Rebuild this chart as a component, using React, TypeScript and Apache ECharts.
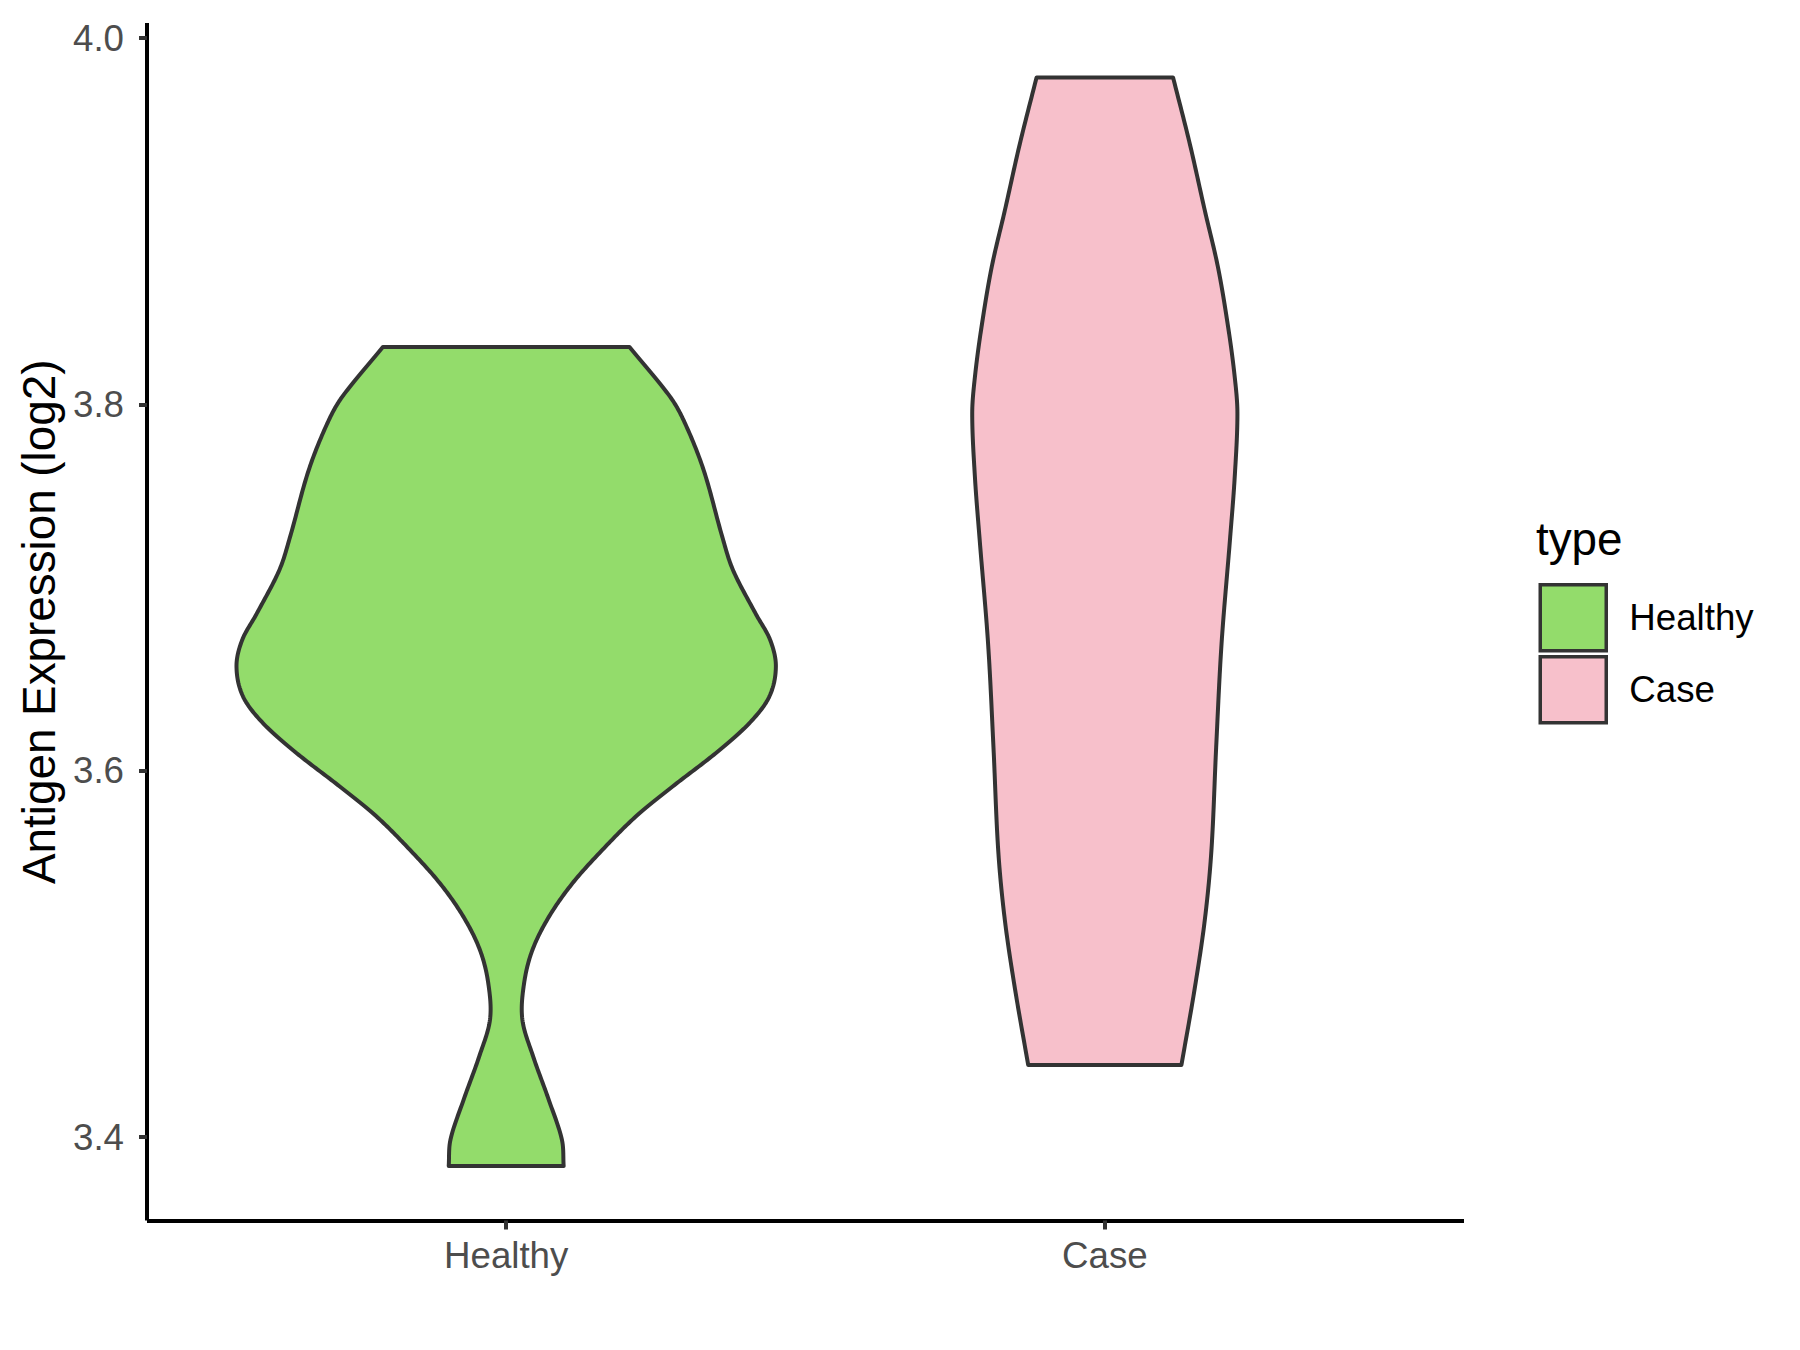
import React, { useEffect, useRef } from 'react';
import * as echarts from 'echarts';

// ---- data ----
const categories = ['Healthy', 'Case'];
// violin outlines: expression value (log2) and half-width (in category units)
const healthyValues = [3.8313, 3.8041, 3.7895, 3.764, 3.7277, 3.7095, 3.6859, 3.6714, 3.6568, 3.6404, 3.6259, 3.6096, 3.5914, 3.575, 3.5569, 3.5387, 3.5205, 3.5023, 3.4842, 3.4642, 3.4441, 3.4205, 3.3987, 3.3842];
const healthyHalfWidths = [0.206, 0.274, 0.299, 0.33, 0.361, 0.379, 0.4165, 0.441, 0.4505, 0.4394, 0.406, 0.35, 0.278, 0.2165, 0.161, 0.111, 0.0718, 0.044, 0.03, 0.027, 0.045, 0.071, 0.093, 0.096];
const caseValues = [3.9785, 3.9422, 3.9059, 3.8749, 3.8422, 3.815, 3.795, 3.7604, 3.7259, 3.6694, 3.6128, 3.5562, 3.5185, 3.4808, 3.4394];
const caseHalfWidths = [0.114, 0.142, 0.167, 0.189, 0.206, 0.217, 0.2215, 0.217, 0.209, 0.195, 0.186, 0.178, 0.167, 0.15, 0.128];
const yTicks = [3.4, 3.6, 3.8, 4.0];
const xTicks = [1, 2];
const fills = ['#93DC6B', '#F7C0CB'];

const FONT = "'Liberation Sans', Arial, Helvetica, sans-serif";
const OUTLINE = '#333333';

// smooth x(y) outline through the given pixel points (y monotonic) with cubic Hermite segments
function smoothSide(pts: number[][], steps = 20): number[][] {
  const n = pts.length;
  const m: number[] = pts.map((p, i) => {
    const a = pts[Math.max(0, i - 1)];
    const b = pts[Math.min(n - 1, i + 1)];
    const dy = b[1] - a[1];
    return dy === 0 ? 0 : (b[0] - a[0]) / dy;
  });
  const out: number[][] = [];
  for (let i = 0; i < n - 1; i++) {
    const [x0, y0] = pts[i];
    const [x1, y1] = pts[i + 1];
    const h = y1 - y0;
    for (let s = 0; s < steps; s++) {
      const t = s / steps;
      const t2 = t * t;
      const t3 = t2 * t;
      const h00 = 2 * t3 - 3 * t2 + 1;
      const h10 = t3 - 2 * t2 + t;
      const h01 = -2 * t3 + 3 * t2;
      const h11 = t3 - t2;
      out.push([h00 * x0 + h10 * h * m[i] + h01 * x1 + h11 * h * m[i + 1], y0 + t * h]);
    }
  }
  out.push(pts[n - 1]);
  return out;
}

function violinSeries(name: string, center: number, values: number[], halfWidths: number[], fill: string) {
  return {
    name,
    type: 'custom',
    data: values.map((v, i) => [center, v, halfWidths[i]]),
    encode: { x: 0, y: 1 },
    itemStyle: { color: fill, borderColor: OUTLINE, borderWidth: 4 },
    renderItem: (params: any, api: any) => {
      if (params.dataIndex !== 0) return null;
      const right = values.map((v, i) => api.coord([center + halfWidths[i], v]));
      const left = values.map((v, i) => api.coord([center - halfWidths[i], v]));
      const pts = [...smoothSide(right), ...smoothSide(left).reverse()];
      return {
        type: 'polygon',
        shape: { points: pts },
        style: { fill, stroke: OUTLINE, lineWidth: 4, lineJoin: 'round' },
      };
    },
  };
}

export default function App() {
  const ref = useRef<HTMLDivElement>(null);
  useEffect(() => {
    if (!ref.current) return;
    const chart = echarts.init(ref.current, null, { renderer: 'svg' });
    const all = [...healthyValues, ...caseValues];
    const lo = Math.min(...all);
    const hi = Math.max(...all);
    const pad = (hi - lo) * 0.05;
    chart.setOption({
      animation: false,
      backgroundColor: '#ffffff',
      grid: { left: 147, right: 336, top: 23, bottom: 129.5, containLabel: false },
      xAxis: {
        type: 'value',
        min: 0.4,
        max: 2.6,
        splitLine: { show: false },
        axisLine: { show: true, onZero: false, lineStyle: { color: '#000', width: 4, cap: 'butt' } },
        axisTick: { show: true, customValues: xTicks, length: 9, lineStyle: { color: OUTLINE, width: 4 } },
        axisLabel: {
          customValues: xTicks,
          formatter: (v: number) => categories[Math.round(v) - 1] ?? '',
          margin: 16,
          color: '#4D4D4D',
          fontSize: 36.7,
          fontFamily: FONT,
        },
      },
      yAxis: {
        type: 'value',
        min: lo - pad,
        max: hi + pad,
        splitLine: { show: false },
        axisLine: { show: true, onZero: false, lineStyle: { color: '#000', width: 4, cap: 'butt' } },
        axisTick: { show: true, customValues: yTicks, length: 8, lineStyle: { color: OUTLINE, width: 4 } },
        axisLabel: {
          customValues: yTicks,
          formatter: (v: number) => v.toFixed(1),
          margin: 23,
          color: '#4D4D4D',
          fontSize: 36.7,
          fontFamily: FONT,
        },
        name: 'Antigen Expression (log2)',
        nameLocation: 'middle',
        nameRotate: 90,
        nameGap: 84,
        nameTextStyle: { color: '#000', fontSize: 45.8, fontFamily: FONT },
      },
      legend: {
        data: categories,
        orient: 'vertical',
        left: 1538.5,
        top: 583,
        padding: 0,
        itemWidth: 66,
        itemHeight: 66,
        itemGap: 2.5,
        icon: 'rect',
        selectedMode: false,
        itemStyle: { borderColor: OUTLINE, borderWidth: 3.5 },
        textStyle: { color: '#000', fontSize: 36.7, fontFamily: FONT, padding: [0, 0, 0, 18] },
      },
      graphic: [
        {
          type: 'text',
          x: 1536,
          y: 539,
          style: { text: 'type', fill: '#000', fontSize: 45.8, fontFamily: FONT, align: 'left', verticalAlign: 'middle' },
        },
      ],
      series: [
        violinSeries(categories[0], 1, healthyValues, healthyHalfWidths, fills[0]),
        violinSeries(categories[1], 2, caseValues, caseHalfWidths, fills[1]),
      ],
    });
    return () => chart.dispose();
  }, []);
  return (
    <div
      ref={ref}
      style={{ position: 'fixed', left: 0, top: 0, width: 1800, height: 1350, background: '#fff' }}
    />
  );
}
